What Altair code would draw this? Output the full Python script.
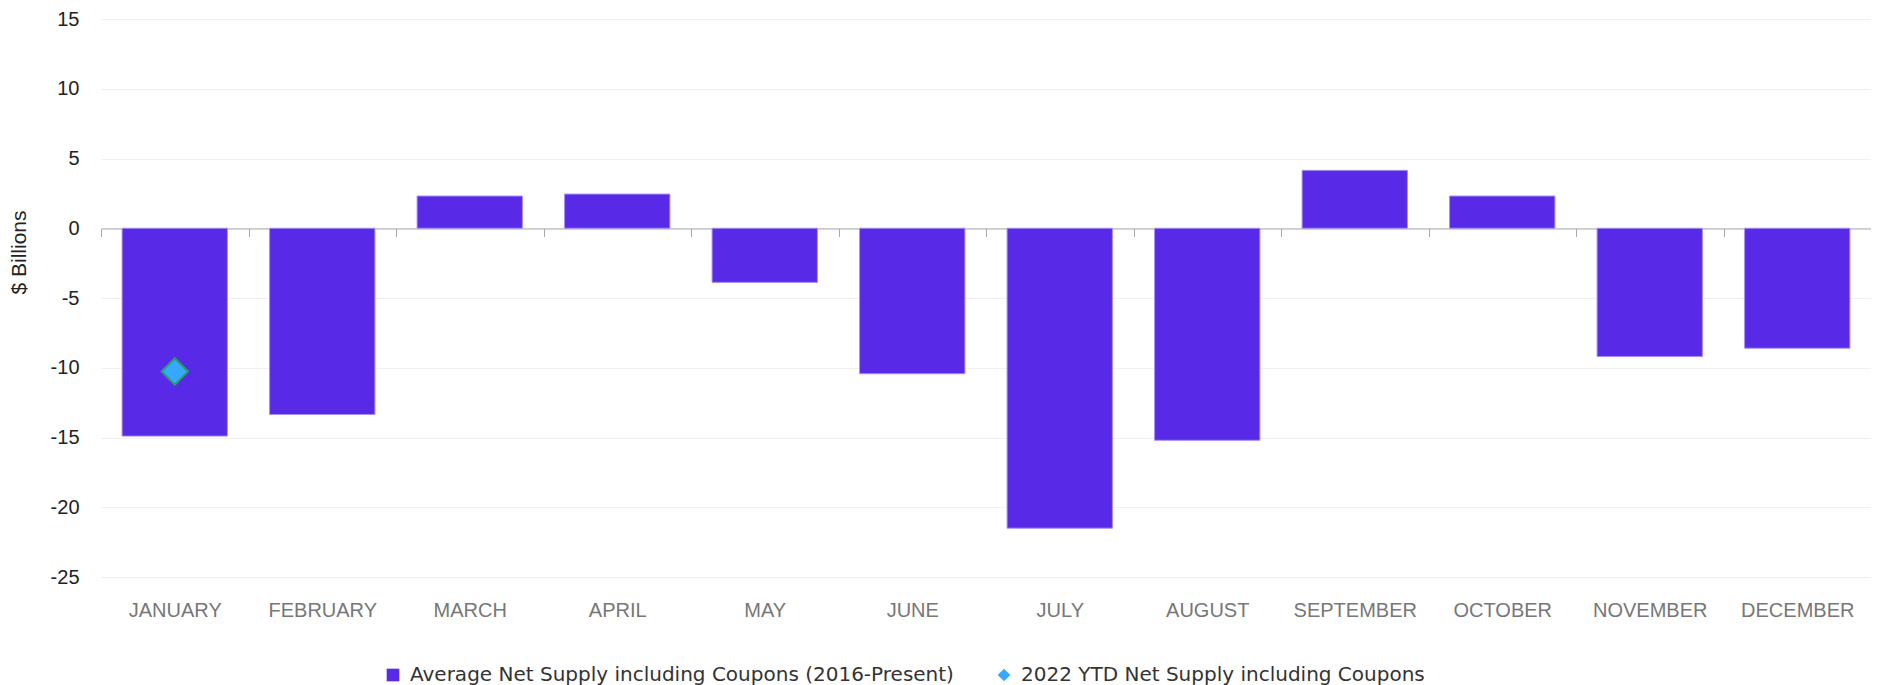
import altair as alt
import pandas as pd

months = ["JANUARY", "FEBRUARY", "MARCH", "APRIL", "MAY", "JUNE", "JULY",
          "AUGUST", "SEPTEMBER", "OCTOBER", "NOVEMBER", "DECEMBER"]
avg_values = [-14.9, -13.35, 2.31, 2.45, -3.88, -10.43, -21.5, -15.2, 4.15, 2.31, -9.2, -8.6]
ytd_months = ["JANUARY"]
ytd_values = [-10.27]

series_avg = "Average Net Supply including Coupons (2016-Present)"
series_ytd = "2022 YTD Net Supply including Coupons"

df_bar = pd.DataFrame({"month": months, "value": avg_values, "series": series_avg})
df_pt = pd.DataFrame({"month": ytd_months, "value": ytd_values, "series": series_ytd})

FONT = "Liberation Sans"

xscale = alt.Scale(domain=months, paddingInner=0, paddingOuter=0)
yscale = alt.Scale(domain=[-25, 15], nice=False, zero=False)
cscale = alt.Scale(domain=[series_avg, series_ytd], range=["#5829E6", "#38A8FF"])
sscale = alt.Scale(domain=[series_avg, series_ytd], range=["square", "diamond"])

legend = alt.Legend(title=None, orient="none", legendX=282, legendY=646, direction="horizontal",
                    labelFont="DejaVu Sans", labelFontSize=20, labelColor="#333333", symbolSize=160,
                    labelOffset=7, columnPadding=40, symbolStrokeWidth=0, labelLimit=900)

xaxis = alt.Axis(title=None, offset=-348.5, domainColor="#aaaaaa", tickColor="#aaaaaa",
                 tickSize=8, tickBand="extent", labelAngle=0, labelFont=FONT, labelFontSize=20,
                 labelColor="#777777", labelPadding=364, grid=False)
yaxis = alt.Axis(title="$ Billions", values=[-25, -20, -15, -10, -5, 0, 5, 10, 15], domain=False,
                 ticks=False, labelPadding=22, labelFont=FONT, labelFontSize=20,
                 labelColor="#222222", labelExpr="'' + datum.value",
                 gridColor="#f0f0f0", titleFont=FONT, titleFontSize=21, titleFontWeight="normal",
                 titleColor="#222222", titleAngle=-90, titleX=-82, titleY=233, titleAnchor="middle",
                 titleAlign="center", titleBaseline="middle")

bars = alt.Chart(df_bar).mark_bar(stroke="#a48ff7", strokeWidth=1,
                                  width=alt.RelativeBandSize(0.714)).encode(
    x=alt.X("month:N", scale=xscale, axis=xaxis, sort=months),
    y=alt.Y("value:Q", scale=yscale, axis=yaxis),
    color=alt.Color("series:N", scale=cscale, legend=legend),
)

points = alt.Chart(df_pt).mark_point(filled=True, size=700, stroke="#22a35a", strokeWidth=2,
                                      opacity=1).encode(
    x=alt.X("month:N", scale=xscale, axis=xaxis, sort=months),
    y=alt.Y("value:Q", scale=yscale, axis=yaxis),
    color=alt.Color("series:N", scale=cscale, legend=legend),
    shape=alt.Shape("series:N", scale=sscale, legend=legend),
)

chart = alt.layer(bars, points).properties(
    width=1770, height=558,
    background="white",
    autosize=alt.AutoSizeParams(type="none"),
    padding={"left": 93, "top": 11, "right": 0, "bottom": 130},
).configure_view(stroke=None, strokeWidth=0)

chart.save("out.html", embed_options={"renderer": "svg", "actions": False})
